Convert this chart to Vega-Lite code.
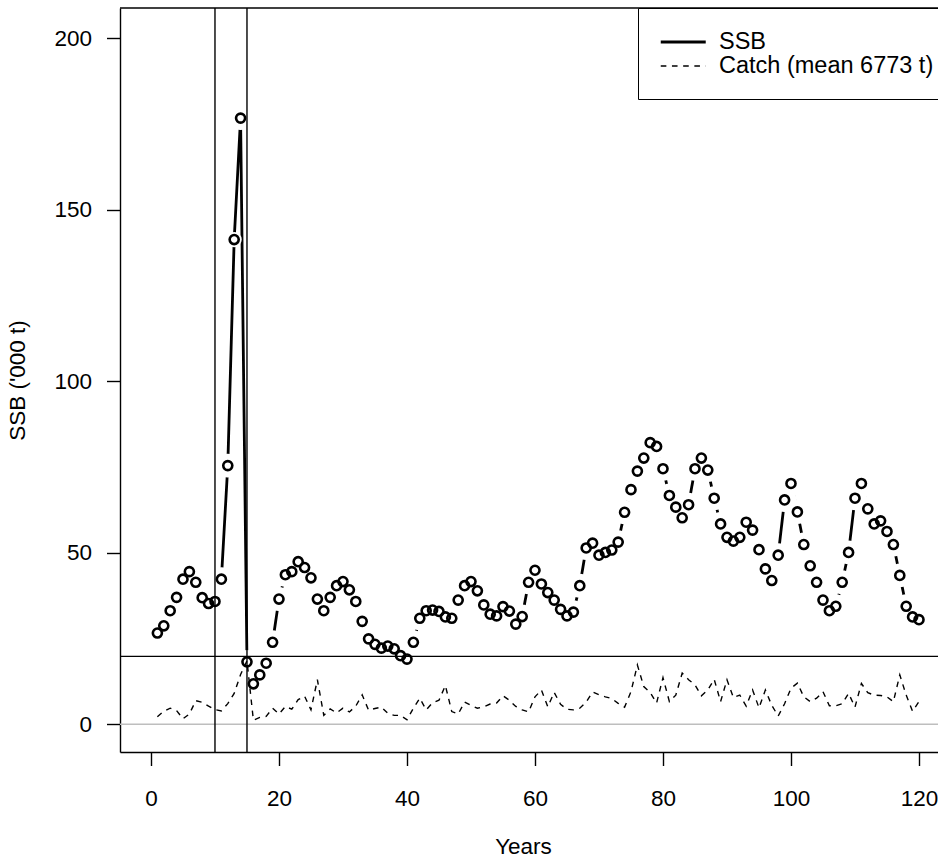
{
  "$schema": "https://vega.github.io/schema/vega-lite/v6.json",
  "width": 818,
  "height": 744,
  "autosize": {"type": "none"},
  "padding": {"left": 120, "top": 8, "right": 0, "bottom": 114},
  "background": "white",
  "view": {"stroke": null},
  "config": {
    "font": "Liberation Sans",
    "axis": {
      "labelFont": "Liberation Sans", "labelFontSize": 22.5, "labelColor": "black",
      "titleFont": "Liberation Sans", "titleFontSize": 22.5, "titleFontWeight": "normal", "titleColor": "black",
      "grid": false, "tickColor": "black", "tickWidth": 1.4, "tickSize": 13.5,
      "domainColor": "black", "domainWidth": 1.4, "labelOverlap": false, "labelFlush": false
    }
  },
  "data": {"values": [
    {"year":1,"ssb":26.6,"catch":2.2},{"year":2,"ssb":28.7,"catch":3.8},{"year":3,"ssb":33.1,"catch":4.7},{"year":4,"ssb":37.0,"catch":4.0},{"year":5,"ssb":42.3,"catch":1.6},
    {"year":6,"ssb":44.5,"catch":3.0},{"year":7,"ssb":41.4,"catch":6.9},{"year":8,"ssb":36.9,"catch":6.4},{"year":9,"ssb":35.2,"catch":5.3},{"year":10,"ssb":35.8,"catch":4.3},
    {"year":11,"ssb":42.3,"catch":3.9},{"year":12,"ssb":75.4,"catch":6.0},{"year":13,"ssb":141.3,"catch":9.0},{"year":14,"ssb":176.7,"catch":14.5},{"year":15,"ssb":18.2,"catch":18.5},
    {"year":16,"ssb":11.8,"catch":1.2},{"year":17,"ssb":14.4,"catch":2.0},{"year":18,"ssb":17.8,"catch":2.3},{"year":19,"ssb":23.9,"catch":4.7},{"year":20,"ssb":36.5,"catch":3.0},
    {"year":21,"ssb":43.6,"catch":5.2},{"year":22,"ssb":44.5,"catch":4.4},{"year":23,"ssb":47.4,"catch":7.2},{"year":24,"ssb":45.7,"catch":8.2},{"year":25,"ssb":42.7,"catch":4.2},
    {"year":26,"ssb":36.5,"catch":13.0},{"year":27,"ssb":33.1,"catch":2.6},{"year":28,"ssb":37.0,"catch":4.5},{"year":29,"ssb":40.4,"catch":3.3},{"year":30,"ssb":41.6,"catch":4.7},
    {"year":31,"ssb":39.2,"catch":3.6},{"year":32,"ssb":35.8,"catch":5.3},{"year":33,"ssb":30.0,"catch":8.6},{"year":34,"ssb":24.9,"catch":4.1},{"year":35,"ssb":23.3,"catch":4.6},
    {"year":36,"ssb":22.2,"catch":5.0},{"year":37,"ssb":22.8,"catch":3.2},{"year":38,"ssb":22.0,"catch":2.6},{"year":39,"ssb":20.0,"catch":2.6},{"year":40,"ssb":19.0,"catch":1.3},
    {"year":41,"ssb":23.9,"catch":4.7},{"year":42,"ssb":30.9,"catch":7.6},{"year":43,"ssb":33.1,"catch":4.2},{"year":44,"ssb":33.3,"catch":6.3},{"year":45,"ssb":32.9,"catch":7.0},
    {"year":46,"ssb":31.3,"catch":11.3},{"year":47,"ssb":30.9,"catch":3.7},{"year":48,"ssb":36.2,"catch":3.0},{"year":49,"ssb":40.4,"catch":6.5},{"year":50,"ssb":41.6,"catch":5.5},
    {"year":51,"ssb":38.9,"catch":4.7},{"year":52,"ssb":34.8,"catch":5.1},{"year":53,"ssb":32.1,"catch":5.9},{"year":54,"ssb":31.6,"catch":6.2},{"year":55,"ssb":34.3,"catch":8.3},
    {"year":56,"ssb":33.0,"catch":7.0},{"year":57,"ssb":29.2,"catch":5.2},{"year":58,"ssb":31.4,"catch":4.2},{"year":59,"ssb":41.4,"catch":3.6},{"year":60,"ssb":44.9,"catch":8.0},
    {"year":61,"ssb":40.9,"catch":10.0},{"year":62,"ssb":38.4,"catch":5.1},{"year":63,"ssb":36.2,"catch":9.3},{"year":64,"ssb":33.5,"catch":5.8},{"year":65,"ssb":31.6,"catch":4.4},
    {"year":66,"ssb":32.7,"catch":4.2},{"year":67,"ssb":40.4,"catch":4.7},{"year":68,"ssb":51.4,"catch":6.5},{"year":69,"ssb":52.8,"catch":9.4},{"year":70,"ssb":49.3,"catch":8.6},
    {"year":71,"ssb":50.1,"catch":8.0},{"year":72,"ssb":50.8,"catch":7.5},{"year":73,"ssb":53.1,"catch":6.1},{"year":74,"ssb":61.8,"catch":5.0},{"year":75,"ssb":68.4,"catch":9.5},
    {"year":76,"ssb":73.8,"catch":17.3},{"year":77,"ssb":77.6,"catch":11.0},{"year":78,"ssb":82.1,"catch":9.3},{"year":79,"ssb":81.0,"catch":6.2},{"year":80,"ssb":74.5,"catch":13.6},
    {"year":81,"ssb":66.7,"catch":6.6},{"year":82,"ssb":63.3,"catch":8.5},{"year":83,"ssb":60.2,"catch":14.9},{"year":84,"ssb":64.0,"catch":13.0},{"year":85,"ssb":74.5,"catch":11.5},
    {"year":86,"ssb":77.6,"catch":8.3},{"year":87,"ssb":74.1,"catch":10.0},{"year":88,"ssb":65.9,"catch":13.1},{"year":89,"ssb":58.4,"catch":6.6},{"year":90,"ssb":54.5,"catch":13.0},
    {"year":91,"ssb":53.4,"catch":7.8},{"year":92,"ssb":54.5,"catch":8.5},{"year":93,"ssb":58.9,"catch":5.3},{"year":94,"ssb":56.6,"catch":10.0},{"year":95,"ssb":50.9,"catch":4.8},
    {"year":96,"ssb":45.3,"catch":10.0},{"year":97,"ssb":41.9,"catch":5.5},{"year":98,"ssb":49.3,"catch":2.4},{"year":99,"ssb":65.4,"catch":6.0},{"year":100,"ssb":70.2,"catch":10.5},
    {"year":101,"ssb":61.9,"catch":12.0},{"year":102,"ssb":52.4,"catch":8.0},{"year":103,"ssb":46.2,"catch":6.6},{"year":104,"ssb":41.4,"catch":7.6},{"year":105,"ssb":36.2,"catch":9.5},
    {"year":106,"ssb":33.1,"catch":5.4},{"year":107,"ssb":34.4,"catch":5.4},{"year":108,"ssb":41.4,"catch":6.0},{"year":109,"ssb":50.1,"catch":9.0},{"year":110,"ssb":65.9,"catch":5.0},
    {"year":111,"ssb":70.2,"catch":11.9},{"year":112,"ssb":62.8,"catch":9.2},{"year":113,"ssb":58.4,"catch":8.5},{"year":114,"ssb":59.3,"catch":8.4},{"year":115,"ssb":56.2,"catch":8.0},
    {"year":116,"ssb":52.4,"catch":6.6},{"year":117,"ssb":43.4,"catch":14.4},{"year":118,"ssb":34.4,"catch":8.5},{"year":119,"ssb":31.3,"catch":3.8},{"year":120,"ssb":30.5,"catch":6.6}
  ]},
  "layer": [
    {
      "transform": [{"fold": ["ssb", "catch"], "as": ["series", "value"]}, {"filter": {"field": "series", "equal": "ssb"}}],
      "mark": {"type": "line", "color": "black"},
      "encoding": {
        "x": {"field": "year", "type": "quantitative", "scale": {"domain": [-4.84, 122.97], "nice": false, "zero": false},
              "axis": {"title": "Years", "values": [0, 20, 40, 60, 80, 100, 120], "labelPadding": 22, "titlePadding": 25, "titleX": 403}},
        "y": {"field": "value", "type": "quantitative", "scale": {"domain": [-8.08, 208.8], "nice": false, "zero": false},
              "axis": {"title": "SSB ('000 t)", "values": [0, 50, 100, 150, 200], "labelPadding": 15, "titlePadding": 24}},
        "strokeDash": {"field": "series", "type": "nominal",
          "scale": {"domain": ["ssb", "catch"], "range": [[1, 0], [5.6, 5.6]]},
          "legend": {"title": null, "orient": "none", "legendX": 518, "legendY": 0, "symbolType": "M-1,0L3,0", "symbolSize": 506,
            "symbolStrokeColor": "black", "symbolFillColor": "transparent", "labelFont": "Liberation Sans", "labelFontSize": 23.5,
            "labelColor": "black", "labelOffset": 34, "labelLimit": 500, "padding": 21, "strokeColor": "black", "fillColor": "white", "rowPadding": 0,
            "labelExpr": "datum.label == 'ssb' ? 'SSB' : 'Catch (mean 6773 t)'"}},
        "strokeWidth": {"field": "series", "type": "nominal",
          "scale": {"domain": ["ssb", "catch"], "range": [2.8, 1.4]},
          "legend": {"title": null, "orient": "none", "legendX": 518, "legendY": 0, "symbolType": "M-1,0L3,0", "symbolSize": 506,
            "symbolStrokeColor": "black", "symbolFillColor": "transparent", "labelFont": "Liberation Sans", "labelFontSize": 23.5,
            "labelColor": "black", "labelOffset": 34, "labelLimit": 500, "padding": 21, "strokeColor": "black", "fillColor": "white", "rowPadding": 0,
            "labelExpr": "datum.label == 'ssb' ? 'SSB' : 'Catch (mean 6773 t)'"}}
      }
    },
    {
      "transform": [{"filter": "datum.year != 13"}],
      "mark": {"type": "circle", "color": "white", "opacity": 1, "size": 572},
      "encoding": {
        "x": {"field": "year", "type": "quantitative", "scale": {"domain": [-4.84, 122.97], "nice": false, "zero": false}},
        "y": {"field": "ssb", "type": "quantitative", "scale": {"domain": [-8.08, 208.8], "nice": false, "zero": false}}
      }
    },
    {
      "transform": [{"filter": "datum.year == 13"}],
      "mark": {"type": "circle", "color": "white", "opacity": 1, "size": 230},
      "encoding": {
        "x": {"field": "year", "type": "quantitative", "scale": {"domain": [-4.84, 122.97], "nice": false, "zero": false}},
        "y": {"field": "ssb", "type": "quantitative", "scale": {"domain": [-8.08, 208.8], "nice": false, "zero": false}}
      }
    },
    {
      "data": {"values": [{"v": 0}]},
      "mark": {"type": "rule", "color": "#bebebe", "strokeWidth": 1.4},
      "encoding": {"y": {"field": "v", "type": "quantitative", "scale": {"domain": [-8.08, 208.8], "nice": false, "zero": false}}}
    },
    {
      "data": {"values": [{"v": 208.8}]},
      "mark": {"type": "rule", "color": "black", "strokeWidth": 1.4},
      "encoding": {"y": {"field": "v", "type": "quantitative", "scale": {"domain": [-8.08, 208.8], "nice": false, "zero": false}}}
    },
    {
      "data": {"values": [{"v": 10}, {"v": 15}]},
      "mark": {"type": "rule", "color": "black", "strokeWidth": 1.4},
      "encoding": {"x": {"field": "v", "type": "quantitative", "scale": {"domain": [-4.84, 122.97], "nice": false, "zero": false}}}
    },
    {
      "data": {"values": [{"v": 19.8}]},
      "mark": {"type": "rule", "color": "black", "strokeWidth": 1.4},
      "encoding": {"y": {"field": "v", "type": "quantitative", "scale": {"domain": [-8.08, 208.8], "nice": false, "zero": false}}}
    },
    {
      "transform": [{"fold": ["ssb", "catch"], "as": ["series", "value"]}, {"filter": {"field": "series", "equal": "catch"}}],
      "mark": {"type": "line", "color": "black"},
      "encoding": {
        "x": {"field": "year", "type": "quantitative", "scale": {"domain": [-4.84, 122.97], "nice": false, "zero": false}},
        "y": {"field": "value", "type": "quantitative", "scale": {"domain": [-8.08, 208.8], "nice": false, "zero": false}},
        "strokeDash": {"field": "series", "type": "nominal",
          "scale": {"domain": ["ssb", "catch"], "range": [[1, 0], [5.6, 5.6]]},
          "legend": {"title": null, "orient": "none", "legendX": 518, "legendY": 0, "symbolType": "M-1,0L3,0", "symbolSize": 506,
            "symbolStrokeColor": "black", "symbolFillColor": "transparent", "labelFont": "Liberation Sans", "labelFontSize": 23.5,
            "labelColor": "black", "labelOffset": 34, "labelLimit": 500, "padding": 21, "strokeColor": "black", "fillColor": "white", "rowPadding": 0,
            "labelExpr": "datum.label == 'ssb' ? 'SSB' : 'Catch (mean 6773 t)'"}},
        "strokeWidth": {"field": "series", "type": "nominal",
          "scale": {"domain": ["ssb", "catch"], "range": [2.8, 1.4]},
          "legend": {"title": null, "orient": "none", "legendX": 518, "legendY": 0, "symbolType": "M-1,0L3,0", "symbolSize": 506,
            "symbolStrokeColor": "black", "symbolFillColor": "transparent", "labelFont": "Liberation Sans", "labelFontSize": 23.5,
            "labelColor": "black", "labelOffset": 34, "labelLimit": 500, "padding": 21, "strokeColor": "black", "fillColor": "white", "rowPadding": 0,
            "labelExpr": "datum.label == 'ssb' ? 'SSB' : 'Catch (mean 6773 t)'"}}
      }
    },
    {
      "mark": {"type": "point", "shape": "circle", "filled": false, "color": "black", "strokeWidth": 2.6, "size": 82, "opacity": 1},
      "encoding": {
        "x": {"field": "year", "type": "quantitative", "scale": {"domain": [-4.84, 122.97], "nice": false, "zero": false}},
        "y": {"field": "ssb", "type": "quantitative", "scale": {"domain": [-8.08, 208.8], "nice": false, "zero": false}}
      }
    }
  ]
}
